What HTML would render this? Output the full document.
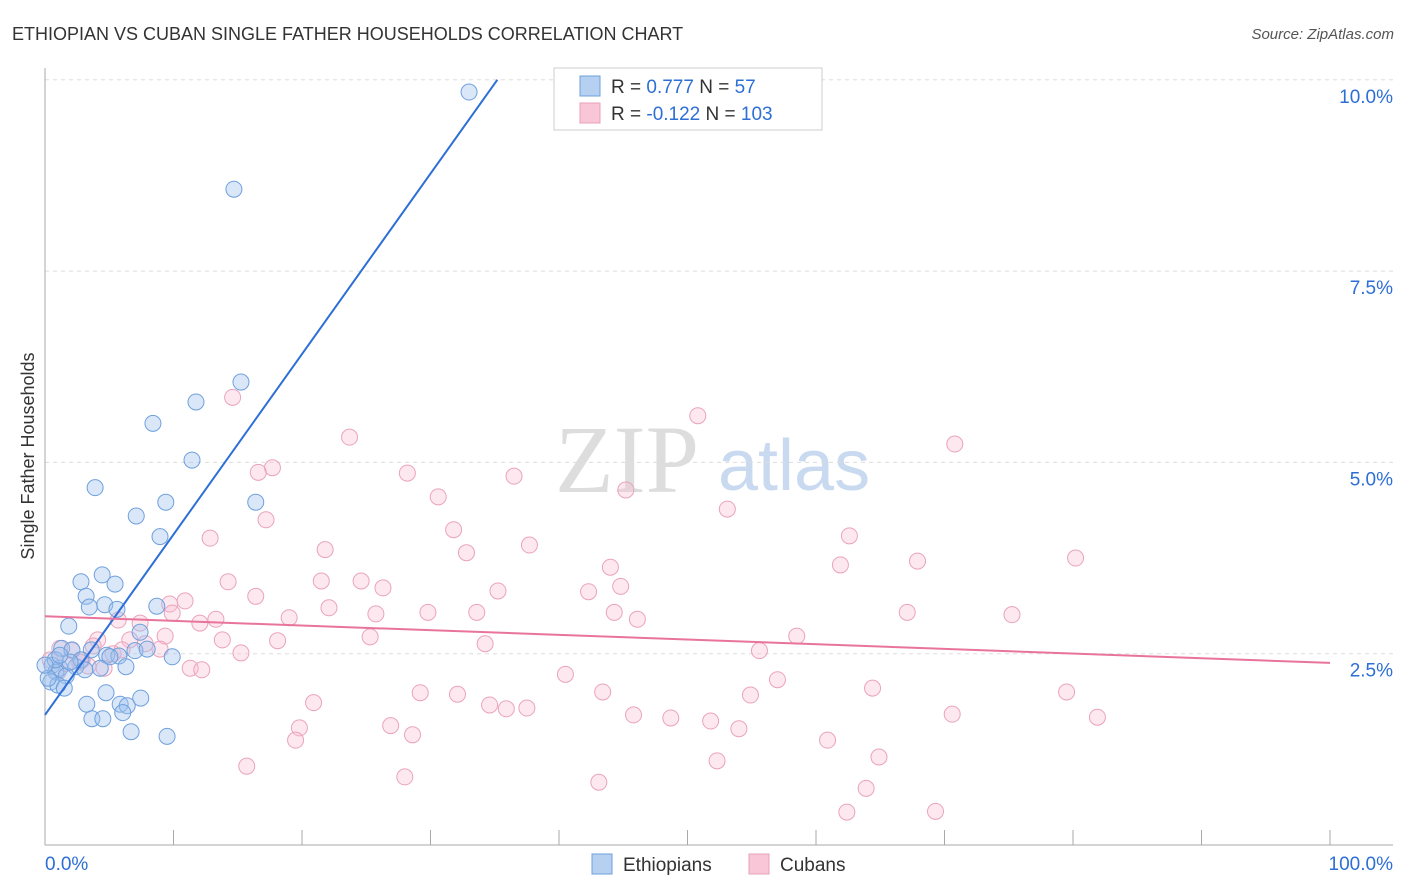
<!DOCTYPE html>
<html><head><meta charset="utf-8"><style>
body{margin:0;background:#fff;font-family:"Liberation Sans",sans-serif;}
svg{display:block}
</style></head><body>
<svg id="chart" width="1406" height="892">
<text x="12" y="40" font-size="18" fill="#333">ETHIOPIAN VS CUBAN SINGLE FATHER HOUSEHOLDS CORRELATION CHART</text>
<text x="1394" y="39" font-size="15" fill="#555" font-style="italic" text-anchor="end">Source: ZipAtlas.com</text>
<text x="34" y="456" font-size="18" fill="#333" transform="rotate(-90 34 456)" text-anchor="middle">Single Father Households</text>
<text x="555" y="492" font-size="96" fill="#ddd" font-family="Liberation Serif,serif">ZIP</text>
<text x="718" y="490" font-size="72" fill="#c9daf0">atlas</text>
<g id="grid"></g><g id="axes"></g><g id="pts"></g><g id="lines"></g>
<g>
<rect x="554" y="68" width="268" height="62" fill="#fff" stroke="#ccc"/>
<rect x="580" y="76" width="20" height="20" fill="#b6d0f2" stroke="#6fa0dc"/>
<rect x="580" y="103" width="20" height="20" fill="#f8c6d6" stroke="#e8a0b8"/>
<text x="611" y="93" font-size="19" fill="#333">R = <tspan fill="#2d6fd6"> 0.777</tspan>   N = <tspan fill="#2d6fd6">  57</tspan></text>
<text x="611" y="120" font-size="19" fill="#333">R = <tspan fill="#2d6fd6">-0.122</tspan>   N = <tspan fill="#2d6fd6">103</tspan></text>
</g>
<g>
<rect x="592" y="854" width="20" height="20" fill="#b6d0f2" stroke="#6fa0dc"/>
<text x="623" y="871" font-size="19" fill="#333">Ethiopians</text>
<rect x="749" y="854" width="20" height="20" fill="#f8c6d6" stroke="#e8a0b8"/>
<text x="780" y="871" font-size="19" fill="#333">Cubans</text>
</g>
</svg>
<script>
const blueX=[33.0,14.7,15.25,11.75,8.4,11.44,3.9,9.4,16.4,7.1,8.95,4.45,2.8,5.45,3.2,3.45,4.65,5.6,8.7,1.85,7.4,1.3,2.1,3.6,4.8,5.75,7.0,7.95,9.9,5.05,0.55,1.15,2.4,2.8,4.3,6.3,0.85,1.65,0.45,1.0,1.5,4.75,7.45,3.25,5.85,6.4,6.05,3.65,4.5,6.7,9.5,0.25,0.8,1.95,3.1,0,1.15];
const blueY=[9.84,8.57,6.05,5.79,5.51,5.03,4.67,4.48,4.48,4.30,4.03,3.53,3.44,3.41,3.25,3.11,3.14,3.08,3.12,2.86,2.78,2.57,2.55,2.55,2.48,2.47,2.54,2.56,2.46,2.46,2.35,2.31,2.33,2.42,2.31,2.33,2.26,2.21,2.13,2.09,2.05,1.99,1.92,1.84,1.84,1.82,1.73,1.65,1.65,1.48,1.42,2.18,2.42,2.39,2.29,2.35,2.48];
const pinkX=[50.8,14.6,23.7,70.8,17.7,16.6,28.2,36.5,30.6,45.2,53.1,17.2,31.8,12.85,62.6,37.7,21.8,32.8,80.2,44.0,67.9,61.9,14.25,21.5,24.6,26.3,35.25,42.3,44.8,10.9,9.7,16.4,9.9,13.3,12.05,22.1,25.75,29.8,33.6,44.3,46.1,67.1,75.25,19.0,5.7,7.4,9.35,7.8,8.95,4.1,3.75,5.3,6.6,6.0,25.3,13.8,18.1,34.25,58.5,55.6,15.25,2.1,2.9,4.6,11.3,12.2,40.5,57.0,64.4,29.2,32.1,43.4,54.9,79.5,20.9,34.6,35.9,37.5,45.8,48.7,51.8,70.6,81.9,26.9,19.8,54.0,28.6,19.5,60.9,64.9,52.3,15.7,28.0,43.1,63.9,62.4,69.3,1.0,0.4,1.65,2.7,3.35,1.15];
const pinkY=[5.61,5.85,5.33,5.24,4.93,4.87,4.86,4.82,4.55,4.64,4.39,4.25,4.12,4.01,4.04,3.92,3.86,3.82,3.75,3.63,3.71,3.66,3.44,3.45,3.45,3.36,3.32,3.31,3.38,3.19,3.15,3.25,3.03,2.95,2.90,3.10,3.02,3.04,3.04,3.04,2.95,3.04,3.01,2.97,2.94,2.90,2.73,2.63,2.56,2.68,2.60,2.50,2.68,2.55,2.72,2.68,2.67,2.63,2.73,2.54,2.51,2.54,2.42,2.31,2.31,2.29,2.23,2.16,2.05,1.99,1.97,2.0,1.96,2.0,1.86,1.83,1.78,1.79,1.70,1.66,1.62,1.71,1.67,1.56,1.53,1.52,1.44,1.37,1.37,1.15,1.10,1.03,0.89,0.82,0.74,0.43,0.44,2.26,2.42,2.37,2.39,2.34,2.57];
const yTicks=[2.5,5.0,7.5,10.0];
const xTickCount=[0,10,20,30,40,50,60,70,80,90,100];
const blueFit=[1.70,10.0]; // y at x=0 and end
const blueFitEndX=35.2;
const pinkFit=[2.99,2.38];
const NS="http://www.w3.org/2000/svg";
const sx=v=>45+v*12.85, sy=v=>845-v*76.52;
function mk(tag,attrs,parent){const e=document.createElementNS(NS,tag);for(const k in attrs)e.setAttribute(k,attrs[k]);document.getElementById(parent).appendChild(e);return e;}
yTicks.forEach(t=>{
 const l=mk('line',{x1:45,x2:1393,y1:sy(t),y2:sy(t),stroke:'#ddd','stroke-dasharray':'4,4'},'grid');
 
 
 const tx=mk('text',{x:1393,y:sy(t)+23,'font-size':19,fill:'#2d6fd6','text-anchor':'end'},'axes');
 tx.textContent=t.toFixed(1)+'%';
 
 
});
const ax=mk('line',{x1:45,x2:1393,y1:845,y2:845,stroke:'#aaa'},'axes');


const ay=mk('line',{x1:45,x2:45,y1:68,y2:845,stroke:'#aaa'},'axes');


xTickCount.forEach(t=>{
 const l=mk('line',{x1:sx(t),x2:sx(t),y1:830,y2:845,stroke:'#aaa'},'axes');
 
 
});
const xl0=mk('text',{x:45,y:870,'font-size':19,fill:'#2d6fd6'},'axes');xl0.textContent='0.0%';


const xl1=mk('text',{x:1393,y:870,'font-size':19,fill:'#2d6fd6','text-anchor':'end'},'axes');xl1.textContent='100.0%';


pinkX.forEach((x,i)=>{
 const c=mk('circle',{cx:sx(x),cy:sy(pinkY[i]),r:8,fill:'rgba(248,190,210,0.35)',stroke:'#eaa3bc','stroke-width':1},'pts');
 
 
});
blueX.forEach((x,i)=>{
 const c=mk('circle',{cx:sx(x),cy:sy(blueY[i]),r:8,fill:'rgba(160,196,240,0.4)',stroke:'#6fa0dc','stroke-width':1},'pts');
 
 
});
const bl=mk('line',{x1:sx(0),y1:sy(blueFit[0]),x2:sx(blueFitEndX),y2:sy(blueFit[1]),stroke:'#2d6fd6','stroke-width':2},'lines');


const pl=mk('line',{x1:sx(0),y1:sy(pinkFit[0]),x2:sx(100),y2:sy(pinkFit[1]),stroke:'#e8749c','stroke-width':2},'lines');


</script>
</body></html>
